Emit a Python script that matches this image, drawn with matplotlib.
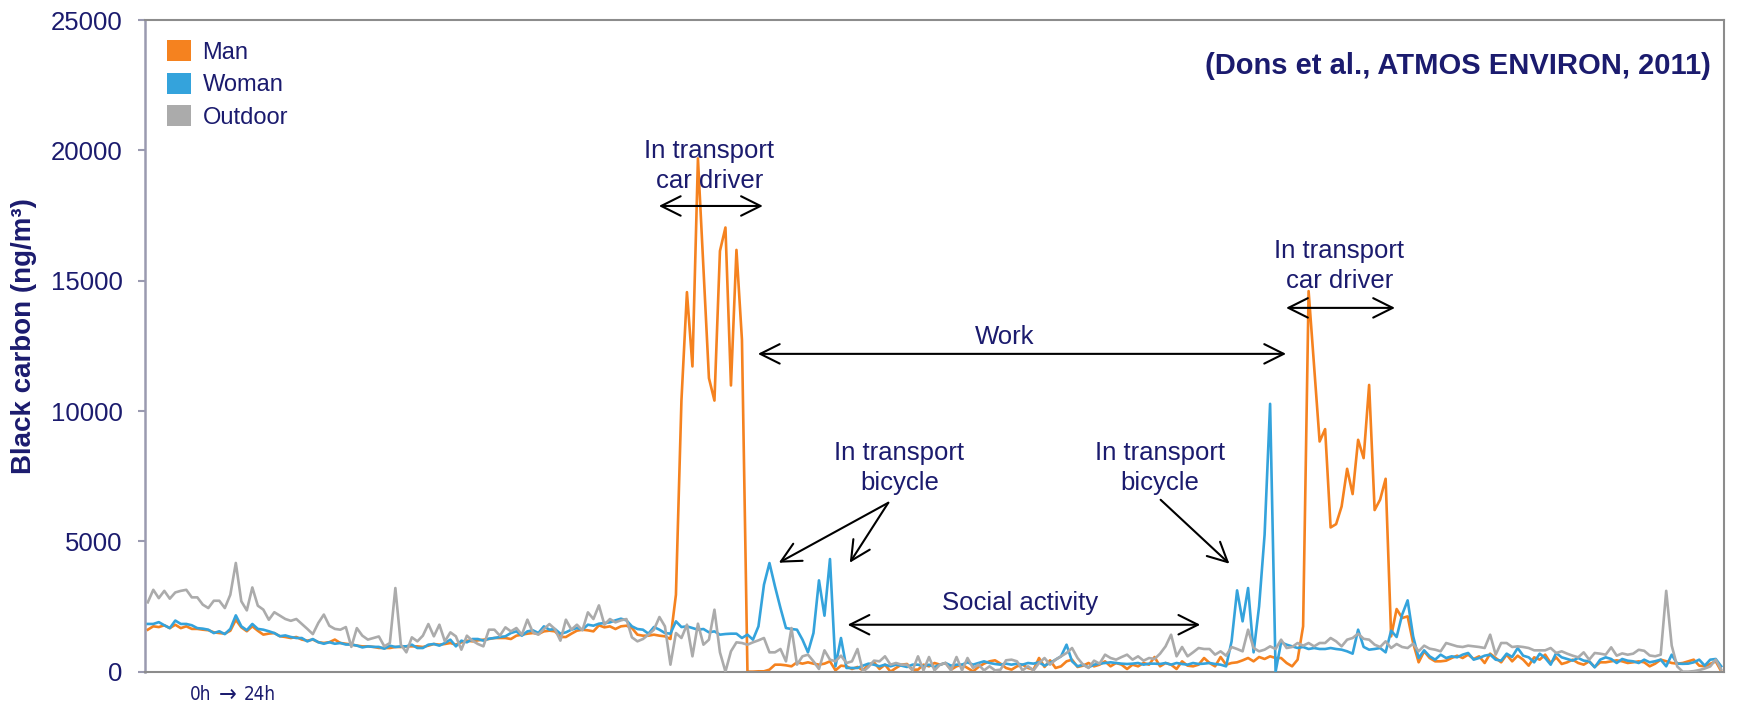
import numpy as np
import matplotlib.pyplot as plt
from matplotlib.patches import Patch

plt.rcParams['font.family'] = ['Liberation Sans', 'DejaVu Sans']

# black carbon, ng/m3, one value per 5-minute slot over 24 h
man = [
    1610, 1740, 1710, 1780, 1670, 1800, 1670, 1740, 1640, 1640,
    1610, 1590, 1510, 1480, 1460, 1570, 1990, 1700, 1550, 1740,
    1570, 1420, 1460, 1480, 1360, 1330, 1290, 1330, 1230, 1190,
    1230, 1130, 1100, 1130, 1230, 1100, 1070, 1040, 1000, 970,
    970, 950, 910, 910,
    907, 946, 946, 971, 971, 971, 946, 997, 1061, 1035,
    1061, 1099, 1035, 1125, 1189, 1163, 1201, 1227, 1252, 1291,
    1291, 1291, 1252, 1380, 1419, 1457, 1482, 1444, 1546, 1572,
    1546, 1329, 1329, 1457, 1572, 1610, 1585, 1546, 1776, 1700,
    1738, 1636, 1738, 1763, 1674,
    1419, 1380, 1380, 1419, 1380, 1355, 1252, 2952, 10400, 14560,
    11710, 19690, 15500, 11260, 10400, 16140, 17040, 10980, 16180, 12730,
    0, 0, 13, 13, 77, 268, 268, 243, 204, 358,
    307, 358, 307, 268, 307, 396, 51, 230, 204, 102,
    179, 51, 268, 358,
    102, 268, 0, 141, 268, 294, 77, 77, 268, 204,
    332, 268, 332, 77, 204, 268, 141, 13, 179, 307,
    396, 435, 307, 141, 77, 204, 268, 141, 77, 524,
    179, 435, 141, 204, 396, 460, 179, 230, 332, 204,
    268, 396, 204, 332, 268,
    102, 268, 204, 332, 268, 562, 204, 332, 268, 102,
    396, 230, 204, 268, 524, 332, 204, 562, 268, 332,
    358, 434, 524, 396, 562, 486, 588, 524, 524, 332,
    204, 460, 1738, 14600, 11700, 8830, 9305, 5533, 5660, 6339,
    7783, 6812, 8895, 8192,
    11000, 6200, 6600, 7400, 1355, 2403, 2058, 2121, 1099, 358,
    780, 524, 396, 396, 422, 524, 613, 524, 652, 486,
    588, 332, 690, 524, 358, 652, 396, 613, 460, 230,
    550, 460, 652, 332, 550, 294, 358, 460, 332, 268,
    396, 179, 358, 358, 396, 434,
    396, 332, 360, 396, 358, 205, 307, 460, 400, 332,
    307, 332, 396, 460, 230, 205, 300, 396, 13,
]

woman = [
    1830, 1830, 1900, 1780, 1670, 1960, 1830, 1830, 1780, 1670,
    1650, 1610, 1480, 1550, 1440, 1640, 2160, 1740, 1590, 1830,
    1640, 1610, 1550, 1480, 1360, 1390, 1330, 1290, 1290, 1160,
    1250, 1130, 1070, 1130, 1070, 1100, 1040, 1040, 1000, 930,
    970, 950, 950, 880,
    997, 946, 971, 971, 1035, 907, 907, 1035, 1061, 997,
    1099, 1227, 971, 1189, 1125, 1252, 1252, 1189, 1265, 1291,
    1329, 1355, 1482, 1546, 1380, 1546, 1585, 1482, 1738, 1610,
    1636, 1457, 1508, 1610, 1674, 1610, 1802, 1763, 1840, 1866,
    1891, 1968, 2032, 1968, 1738,
    1636, 1610, 1457, 1712, 1610, 1482, 1457, 1930, 1712, 1738,
    1674, 1610, 1636, 1508, 1546, 1419, 1444, 1457, 1457, 1291,
    1419, 1227, 1738, 3336, 4166, 3272, 2441, 1674, 1636, 1610,
    1227, 741, 1482, 3502, 2147, 4320, 204, 1291, 141, 141,
    141, 230, 307, 268,
    204, 268, 204, 268, 230, 179, 268, 268, 204, 268,
    179, 268, 332, 230, 268, 268, 358, 268, 332, 396,
    332, 294, 268, 307, 268, 307, 268, 332, 307, 358,
    230, 332, 460, 588, 1035, 396, 204, 268, 166, 268,
    307, 332, 358, 332, 307,
    294, 307, 332, 268, 307, 307, 294, 332, 268, 332,
    294, 268, 332, 294, 307, 332, 294, 268, 204, 1163,
    3118, 1930, 3208, 741, 2505, 5253, 10275, 0, 1125, 1035,
    971, 907, 946, 869, 907, 869, 869, 907, 869, 843,
    780, 690, 1610, 950,
    843, 870, 907, 741, 1572, 1329, 2185, 2735, 1355, 524,
    818, 588, 460, 652, 524, 588, 550, 652, 716, 460,
    524, 613, 652, 460, 422, 690, 562, 907, 613, 550,
    358, 690, 524, 268, 716, 550, 486, 422, 524, 422,
    396, 166, 460, 550, 486, 332,
    486, 420, 396, 332, 460, 358, 400, 460, 205, 652,
    307, 300, 307, 358, 460, 230, 460, 486, 205,
]

outdoor = [
    2660, 3140, 2820, 3100, 2800, 3040, 3100, 3140, 2850, 2850,
    2570, 2440, 2720, 2720, 2440, 2950, 4170, 2700, 2350, 3230,
    2530, 2380, 1990, 2280, 2150, 2020, 1950, 2020, 1830, 1640,
    1440, 1870, 2190, 1760, 1640, 1610, 1710, 950, 1670, 1380,
    1230, 1290, 1350, 970,
    1099, 3208, 1035, 741, 1316, 1163, 1380, 1827, 1355, 1802,
    1163, 1508, 1355, 843, 1380, 1189, 1061, 971, 1610, 1610,
    1380, 1700, 1546, 1674, 1419, 1994, 1508, 1419, 1636, 1827,
    1636, 1189, 1994, 1610, 1802, 1585, 2275, 2019, 2543, 1802,
    2019, 1891, 1968, 2019, 1316,
    1163, 1252, 1419, 1610, 2096, 1738, 268, 1482, 1291, 1802,
    588, 1840, 1035, 1227, 2377, 741, 0, 780, 1125, 1099,
    1035, 1125, 1201, 1291, 741, 741, 869, 396, 1674, 268,
    588, 652, 396, 102, 818, 460, 396, 613, 332, 396,
    869, 0, 179, 422,
    396, 588, 268, 332, 268, 268, 50, 588, 50, 562,
    50, 268, 332, 50, 562, 50, 524, 141, 268, 50,
    204, 50, 77, 435, 460, 396, 50, 204, 50, 332,
    524, 268, 460, 588, 716, 907, 524, 268, 141, 422,
    307, 652, 524, 460, 560,
    652, 460, 588, 422, 524, 486, 690, 971, 1419, 588,
    946, 588, 741, 907, 869, 869, 652, 780, 613, 946,
    869, 780, 1610, 907, 780, 843, 971, 869, 1227, 907,
    946, 1099, 997, 1099, 971, 1099, 1099, 1291, 1163, 971,
    1227, 1291, 1457, 1260,
    1227, 1035, 946, 1163, 907, 1061, 946, 907, 1073, 780,
    997, 882, 843, 780, 1099, 1035, 971, 946, 997, 971,
    946, 907, 1419, 652, 1099, 1099, 946, 971, 946, 907,
    818, 818, 818, 907, 716, 780, 690, 613, 550, 741,
    460, 716, 690, 652, 933, 613,
    700, 650, 690, 840, 800, 620, 590, 650, 3100, 1000,
    200, 0, 0, 20, 60, 120, 200, 460, 80,
]

series_names = ['Man', 'Woman', 'Outdoor']
y_ticks = [0, 5000, 10000, 15000, 20000, 25000]

NAVY = '#1b1b6e'
colors = {'Man': '#f5821f', 'Woman': '#34a3dc', 'Outdoor': '#ababab'}

fig = plt.figure(figsize=(17.37, 7.05), dpi=100)
ax = fig.add_axes([0.0835, 0.0473, 0.909, 0.9243])

x = np.arange(len(man))
for name, values, z in zip(series_names, [man, woman, outdoor], [2, 3, 4]):
    ax.plot(x, values, color=colors[name], lw=1.9, zorder=z)

ax.set_xlim(-0.5, len(man) - 0.5)
ax.set_ylim(0, 25000)
ax.set_xticks([])
ax.set_yticks(y_ticks)
ax.tick_params(axis='y', direction='out', length=5, width=1.5, color='#9a9ab0',
               labelcolor=NAVY, labelsize=18.5, pad=11)

for side in ['top', 'right', 'bottom']:
    ax.spines[side].set_color('#8c8c8c')
    ax.spines[side].set_linewidth(1.5)
ax.spines['left'].set_color('#9a9ab0')
ax.spines['left'].set_linewidth(1.8)

# legend with square swatches
handles = [Patch(facecolor=colors[n], edgecolor='none', label=n) for n in series_names]
leg = fig.legend(handles=handles, loc='upper left', bbox_to_anchor=(167 / 1737, 1 - 40 / 705),
                 frameon=False, fontsize=17, handlelength=1.0, handleheight=1.0,
                 handletextpad=0.5, labelspacing=0.38, borderpad=0, borderaxespad=0)
for t in leg.get_texts():
    t.set_color(NAVY)

fig.text(24 / 1737, 1 - 336 / 705, 'Black carbon (ng/m³)', rotation=90, ha='center',
         va='center', color=NAVY, fontsize=20, fontweight='bold')
fig.text(1711 / 1737, 1 - 66 / 705, '(Dons et al., ATMOS ENVIRON, 2011)', ha='right',
         va='center', color=NAVY, fontsize=21, fontweight='bold')

# time-axis note: "0h -> 24h", arrow drawn a bit larger than the digits
note_y = 1 - 695 / 705
note_kw = dict(va='center', color=NAVY, family='DejaVu Sans', fontstretch='condensed')
fig.text(190 / 1737, note_y, '0h', ha='left', fontsize=13.5, **note_kw)
fig.text(228 / 1737, note_y, '→', ha='center', fontsize=17, **note_kw)
fig.text(244 / 1737, note_y, '24h', ha='left', fontsize=13.5, **note_kw)

# activity labels and arrows
arrow_kw = dict(color='black', lw=1.5, shrinkA=0, shrinkB=0, mutation_scale=20)


def span(x0, x1, y):
    ax.annotate('', xy=(x1, y), xytext=(x0, y),
                arrowprops=dict(arrowstyle='<->,head_length=0.7,head_width=0.35', **arrow_kw))


def pointer(x0, y0, x1, y1):
    ax.annotate('', xy=(x1, y1), xytext=(x0, y0),
                arrowprops=dict(arrowstyle='->,head_length=0.7,head_width=0.35', **arrow_kw))


def label(xc, yc, s):
    ax.text(xc, yc, s, ha='center', va='center', color=NAVY, fontsize=18.5, linespacing=1.32)


label(102.1, 19400, 'In transport\ncar driver')
span(92.9, 111.8, 17866)

label(155.7, 12850, 'Work')
span(110.9, 206.9, 12192)

label(216.6, 15550, 'In transport\ncar driver')
span(206.9, 226.7, 13956)

label(136.6, 7800, 'In transport\nbicycle')
pointer(134.6, 6480, 114.7, 4179)
pointer(134.6, 6480, 127.6, 4179)

label(183.9, 7800, 'In transport\nbicycle')
pointer(184.1, 6594, 196.6, 4141)

label(158.6, 2620, 'Social activity')
span(127.2, 191.3, 1800)

fig.savefig('out.png', dpi=100)
